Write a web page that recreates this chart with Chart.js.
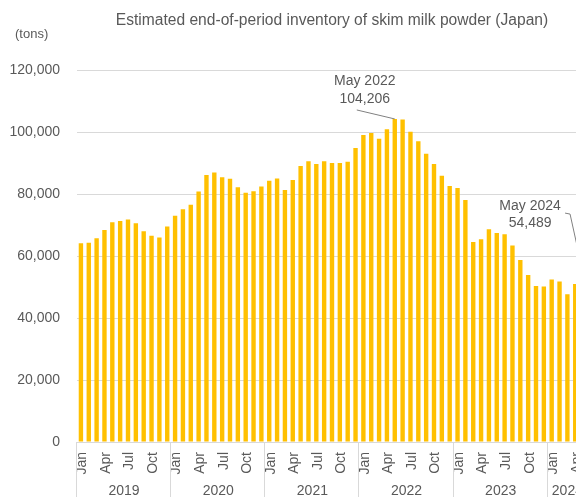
<!DOCTYPE html>
<html>
<head>
<meta charset="utf-8">
<script src="https://cdn.jsdelivr.net/npm/chart.js@4"></script>
<style>
  html, body { margin: 0; padding: 0; background: #fff; overflow: hidden; }
  #wrap { width: 664px; height: 497px; }
</style>
</head>
<body>
<div id="wrap"><canvas id="chart" width="664" height="497"></canvas></div>
<script>
// categories
const years = ['2019', '2020', '2021', '2022', '2023', '2024'];
const monthNames = ['Jan','Feb','Mar','Apr','May','Jun','Jul','Aug','Sep','Oct','Nov','Dec'];
const tickMonths = ['Jan', 'Apr', 'Jul', 'Oct'];

// end-of-month inventory, tons
const stock2019 = [64100, 64300, 65700, 68400, 70900, 71300, 71800, 70600, 68000, 66500, 66000, 69500];
const stock2020 = [73000, 75100, 76500, 80800, 86100, 86900, 85400, 84900, 82200, 80400, 80900, 82400];
const stock2021 = [84300, 85000, 81300, 84500, 89000, 90600, 89700, 90600, 90000, 90000, 90400, 94800];
const stock2022 = [99000, 99700, 97800, 100900, 104206, 104000, 100100, 97000, 93000, 89700, 85900, 82600];
const stock2023 = [81900, 78100, 64500, 65400, 68600, 67400, 67000, 63400, 58700, 53900, 50300, 50200];
const stock2024 = [52400, 51800, 47700, 51000, 54489];

const yTicks = [0, 20000, 40000, 60000, 80000, 100000, 120000];

const callouts = [
  { index: 40, lines: ['May 2022', '104,206'] },
  { index: 64, lines: ['May 2024', '54,489'] }
];

const values = [].concat(stock2019, stock2020, stock2021, stock2022, stock2023, stock2024);
const labels = values.map((_, i) => ({ year: years[Math.floor(i / 12)], month: monthNames[i % 12] }));

const TEXT = '#595959';
const GRID = '#d9d9d9';
const FONT = '"Liberation Sans", Arial, sans-serif';

// titles, year row and the two callouts
const extras = {
  id: 'extras',
  afterDraw(chart) {
    const { ctx, chartArea } = chart;
    const x = chart.scales.x, y = chart.scales.y;
    ctx.save();
    ctx.fillStyle = TEXT;
    ctx.textBaseline = 'middle';

    ctx.font = '15.6px ' + FONT;
    ctx.textAlign = 'center';
    ctx.fillText('Estimated end-of-period inventory of skim milk powder (Japan)', chart.width / 2, 21);

    ctx.font = '13px ' + FONT;
    ctx.textAlign = 'left';
    ctx.fillText('(tons)', 15, 34);

    // year groups under the months
    const step = (chartArea.right - chartArea.left) / values.length;
    ctx.strokeStyle = GRID;
    ctx.lineWidth = 1;
    ctx.font = '14px ' + FONT;
    ctx.textAlign = 'center';
    years.forEach((yr, k) => {
      const first = k * 12;
      const last = Math.min(first + 11, values.length - 1);
      const x0 = x.getPixelForValue(first) - step / 2;
      const x1 = x.getPixelForValue(last) + step / 2;
      ctx.beginPath();
      ctx.moveTo(Math.round(x0) - 0.5, chartArea.bottom);
      ctx.lineTo(Math.round(x0) - 0.5, chart.height);
      ctx.stroke();
      ctx.fillText(yr, (x0 + x1) / 2, chartArea.bottom + 49);
    });

    // callouts
    ctx.strokeStyle = '#808080';
    ctx.font = '14px ' + FONT;
    callouts.forEach((c, n) => {
      const bx = x.getPixelForValue(c.index);
      const by = y.getPixelForValue(values[c.index]);
      ctx.beginPath();
      if (n === 0) {
        ctx.moveTo(bx - 38, by - 9);
        ctx.lineTo(bx, by);
        ctx.stroke();
        ctx.fillText(c.lines[0], bx - 30, by - 38);
        ctx.fillText(c.lines[1], bx - 30, by - 20);
      } else {
        ctx.moveTo(bx - 18, by - 60);
        ctx.lineTo(bx - 13, by - 59);
        ctx.lineTo(bx, by);
        ctx.stroke();
        ctx.fillText(c.lines[0], bx - 53, by - 67);
        ctx.fillText(c.lines[1], bx - 53, by - 50);
      }
    });
    ctx.restore();
  }
};

new Chart(document.getElementById('chart'), {
  type: 'bar',
  data: {
    labels: labels,
    datasets: [{
      data: values,
      backgroundColor: '#FFC000',
      categoryPercentage: 1,
      barPercentage: 0.56
    }]
  },
  options: {
    responsive: false,
    animation: false,
    layout: { padding: { left: 0, top: 70, right: 77, bottom: 0 } },
    plugins: { legend: { display: false }, tooltip: { enabled: false } },
    scales: {
      x: {
        grid: { display: false },
        border: { color: GRID },
        ticks: {
          autoSkip: false,
          minRotation: 90,
          maxRotation: 90,
          padding: 2,
          labelOffset: 1.5,
          color: TEXT,
          font: { family: FONT, size: 14 },
          callback: function (v, i) {
            const m = labels[i].month;
            return tickMonths.includes(m) ? m : '';
          }
        },
        afterFit: s => { s.height = 55; }
      },
      y: {
        min: 0,
        max: 120000,
        afterBuildTicks: s => { s.ticks = yTicks.map(v => ({ value: v })); },
        grid: { color: GRID, drawTicks: false },
        border: { display: false },
        ticks: {
          padding: 17,
          color: TEXT,
          font: { family: FONT, size: 14 },
          callback: v => v.toLocaleString('en-US')
        },
        afterFit: s => { s.width = 77; }
      }
    }
  },
  plugins: [extras]
});
</script>
</body>
</html>
